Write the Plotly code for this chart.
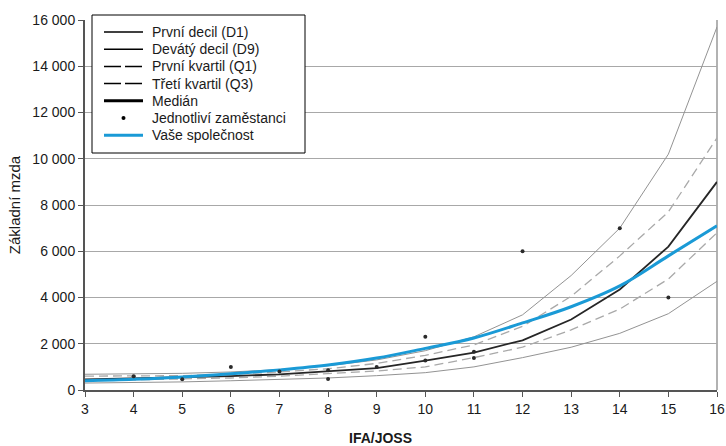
import plotly.graph_objects as go

ifa = [3, 4, 5, 6, 7, 8, 9, 10, 11, 12, 13, 14, 15, 16]
d1 = [300, 320, 350, 400, 450, 520, 620, 750, 1000, 1400, 1850, 2450, 3300, 4700]
q1 = [400, 430, 460, 520, 600, 700, 820, 1000, 1400, 1850, 2600, 3500, 4800, 6800]
median = [460, 500, 530, 600, 680, 820, 950, 1270, 1620, 2150, 3050, 4350, 6200, 9000]
q3 = [600, 600, 620, 680, 780, 920, 1150, 1500, 1950, 2750, 4050, 5800, 7700, 10900]
d9 = [680, 700, 720, 780, 880, 1050, 1300, 1700, 2300, 3250, 4950, 7000, 10200, 15700]
company = [400, 460, 560, 700, 870, 1080, 1380, 1800, 2250, 2900, 3600, 4500, 5800, 7100]

emp_x = [4, 5, 6, 7, 8, 8, 9, 10, 10, 11, 11, 12, 14, 15]
emp_y = [600, 470, 1000, 800, 850, 480, 1000, 2300, 1280, 1650, 1380, 6000, 7000, 4000]

y_ticks = [0, 2000, 4000, 6000, 8000, 10000, 12000, 14000, 16000]
y_labels = ["0", "2 000", "4 000", "6 000", "8 000", "10 000", "12 000", "14 000", "16 000"]

names = ["První decil (D1)", "Devátý decil (D9)", "První kvartil (Q1)", "Třetí kvartil (Q3)",
         "Medián", "Jednotliví zaměstanci", "Vaše společnost"]

FONT = "Arial, Liberation Sans, sans-serif"
W, H = 726, 446
ML, MR, MT, MB = 85, 9, 20, 56
PW, PH = W - ML - MR, H - MT - MB


def px(xp):
    return (xp - ML) / PW


def py(yp):
    return (H - MB - yp) / PH


fig = go.Figure()

gray_line = dict(color="#939393", width=1)
dash_line = dict(color="#a9a9a9", width=1.3, dash="9px,5px")
fig.add_trace(go.Scatter(x=ifa, y=d1, mode="lines", line=gray_line, name=names[0]))
fig.add_trace(go.Scatter(x=ifa, y=d9, mode="lines", line=gray_line, name=names[1]))
fig.add_trace(go.Scatter(x=ifa, y=q1, mode="lines", line=dash_line, name=names[2]))
fig.add_trace(go.Scatter(x=ifa, y=q3, mode="lines", line=dash_line, name=names[3]))
fig.add_trace(go.Scatter(x=ifa, y=median, mode="lines", line=dict(color="#262626", width=1.8), name=names[4]))
fig.add_trace(go.Scatter(x=ifa, y=company, mode="lines", line=dict(color="#1a9ad6", width=3, shape="spline"), name=names[6]))
fig.add_trace(go.Scatter(x=emp_x, y=emp_y, mode="markers", marker=dict(color="#2a2a2a", size=4), name=names[5]))

# legend box (drawn in paper space, to match the compact row spacing of the reference)
shapes = [dict(type="rect", xref="paper", yref="paper", x0=px(92), x1=px(305), y0=py(153), y1=py(15),
               line=dict(color="black", width=1), fillcolor="white", layer="above")]
annotations = []
leg_styles = [
    dict(color="black", width=1.5),
    dict(color="black", width=1.5),
    dict(color="black", width=1.5, dash="17px,4px"),
    dict(color="black", width=1.5, dash="17px,4px"),
    dict(color="black", width=3),
    None,
    dict(color="#1a9ad6", width=3),
]
for i, (name, st) in enumerate(zip(names, leg_styles)):
    yc = 32 + 17.2 * i
    if st is not None:
        shapes.append(dict(type="line", xref="paper", yref="paper", x0=px(104), x1=px(143),
                           y0=py(yc), y1=py(yc), line=st, layer="above"))
    else:
        shapes.append(dict(type="circle", xref="paper", yref="paper", x0=px(121.5), x1=px(125.5),
                           y0=py(yc + 2), y1=py(yc - 2), fillcolor="black", line=dict(width=0), layer="above"))
    annotations.append(dict(text=name, xref="paper", yref="paper", x=px(150), y=py(yc),
                            xanchor="left", yanchor="middle", showarrow=False,
                            font=dict(size=14, family=FONT, color="#1a1a1a")))

# right frame line
shapes.append(dict(type="line", xref="paper", yref="paper", x0=1, x1=1, y0=0, y1=1,
                   line=dict(color="#999999", width=1.5), layer="below"))

annotations.append(dict(text="<b>IFA/JOSS</b>", xref="paper", yref="paper",
                        x=px(380), y=py(438), showarrow=False, xanchor="center", yanchor="middle",
                        font=dict(size=14, family=FONT, color="#1a1a1a")))

fig.update_layout(
    width=W, height=H,
    margin=dict(l=ML, r=MR, t=MT, b=MB, autoexpand=False),
    paper_bgcolor="white", plot_bgcolor="white",
    font=dict(family=FONT, size=14, color="#1a1a1a"),
    showlegend=False,
    xaxis=dict(range=[3, 16], tickvals=ifa, ticks="outside", ticklen=5, tickcolor="#555",
               showline=True, linecolor="#555", linewidth=2, showgrid=False, zeroline=False,
               tickfont=dict(size=14), ticklabeloverflow="allow", automargin=False),
    yaxis=dict(range=[0, 16000], tickvals=y_ticks, ticktext=y_labels, ticks="outside", ticklen=5,
               tickcolor="#555", showline=True, linecolor="#555", linewidth=2,
               showgrid=True, gridcolor="#a8a8a8", gridwidth=1.3, zeroline=False,
               title=dict(text="Základní mzda", font=dict(size=15), standoff=8),
               tickfont=dict(size=14), automargin=False),
    shapes=shapes,
    annotations=annotations,
)

fig.write_html("out.html", config={"displayModeBar": False},
               post_script="document.body.style.margin='0';document.body.style.overflow='hidden';")
